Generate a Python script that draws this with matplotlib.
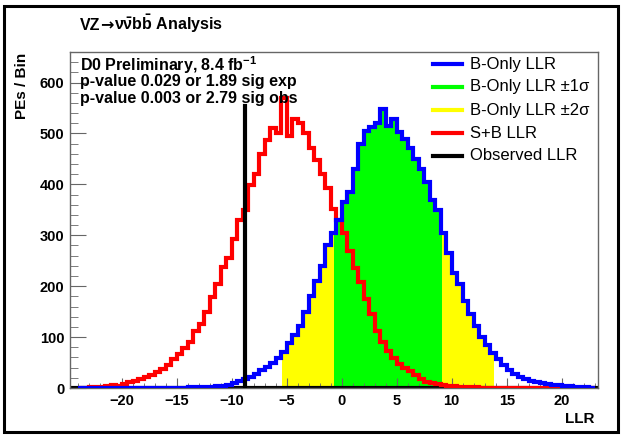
import numpy as np
import matplotlib
matplotlib.use("Agg")
import matplotlib.pyplot as plt
from matplotlib.patches import Rectangle

plt.rcParams.update({
    "font.family": ["Liberation Sans", "DejaVu Sans"],
    "mathtext.fontset": "custom",
    "mathtext.rm": "Liberation Sans:bold",
    "mathtext.bf": "Liberation Sans:bold",
    "mathtext.it": "Liberation Sans:bold",
    "mathtext.default": "bf",
})

# ── Data ──────────────────────────────────────────────────────────
BIN_LO, BIN_HI, BIN_W = -24.0, 23.0, 0.5

sb_llr = [0, 0, 1, 1, 2, 3, 5, 4, 8, 11, 13, 17, 22, 26, 31, 38,
          45, 56, 66, 78, 90, 112, 125, 150, 178, 205, 238, 255,
          292, 330, 350, 398, 420, 460, 488, 510, 500, 570, 495, 528,
          520, 500, 472, 448, 420, 392, 352, 330, 305, 270, 235, 208,
          175, 145, 112, 90, 72, 58, 48, 40, 33, 25, 18, 12,
          9, 7, 5, 4, 3, 2, 2, 1, 1, 0, 0, 0,
          0, 0, 0, 0, 0, 0, 0, 0, 0, 0, 0, 0, 0, 0, 0, 0, 0, 0]

b_llr = [0, 0, 0, 0, 0, 0, 0, 0, 0, 0, 0, 0, 0, 0, 0, 0, 0, 0, 0, 0,
         1, 1, 1, 2, 2, 3, 4, 6, 9, 13, 18, 22, 28, 35, 42, 50,
         58, 70, 88, 105, 122, 150, 180, 210, 240, 280, 305, 330,
         365, 385, 430, 480, 505, 512, 520, 548, 515, 528, 502, 490,
         472, 450, 430, 405, 370, 350, 305, 265, 225, 205, 170, 145,
         122, 100, 85, 68, 56, 45, 36, 28, 22, 18, 14, 12,
         10, 8, 6, 5, 4, 3, 2, 1, 1, 0]

band_1sig = (-0.7, 9.1)
band_2sig = (-5.45, 13.8)
obs_llr = -8.8
obs_height = 553

legend_labels = ["B-Only LLR", "B-Only LLR \u00b11\u03c3", "B-Only LLR \u00b12\u03c3",
                 "S+B LLR", "Observed LLR"]
legend_colors = ["#0000ff", "#00ff00", "#ffff00", "#ff0000", "black"]

info_lines = [r"D0 Preliminary, 8.4 fb$^{-1}$",
              "p-value 0.029 or 1.89 sig exp",
              "p-value 0.003 or 2.79 sig obs"]

edges = np.arange(BIN_LO, BIN_HI + BIN_W / 2, BIN_W)
sb = np.array(sb_llr, dtype=float)
b = np.array(b_llr, dtype=float)
assert len(sb) == len(edges) - 1 and len(b) == len(edges) - 1

fig = plt.figure(figsize=(6.25, 4.4), dpi=100)
ax = fig.add_axes([70 / 625, 52 / 440, 528 / 625, 336 / 440])

# outer frame
fig.patches.append(Rectangle((4 / 625, 8 / 440), 614 / 625, 426 / 440,
                             transform=fig.transFigure, fill=False,
                             edgecolor="black", lw=2.2))


def band(lo, hi, color):
    xs = np.concatenate([[lo], edges[(edges > lo) & (edges < hi)], [hi]])
    xs = np.sort(np.concatenate([xs, xs[1:-1] - 1e-6]))
    idx = np.clip(np.searchsorted(edges, xs, side="right") - 1, 0, len(b) - 1)
    ax.fill_between(xs, 0, b[idx], color=color, lw=0, zorder=1)


band(band_2sig[0], band_1sig[0], "#ffff00")
band(band_1sig[1], band_2sig[1], "#ffff00")
band(band_1sig[0], band_1sig[1], "#00ff00")

ax.axhline(0, color="black", lw=3, zorder=2)
ax.stairs(sb, edges, color="#ff0000", lw=3, baseline=None, zorder=3)
ax.stairs(b, edges, color="#0000ff", lw=3, baseline=None, zorder=4)
ax.plot([obs_llr, obs_llr], [0, obs_height], color="black", lw=3, zorder=5)

ax.set_xlim(-24.7, 23.3)
ax.set_ylim(0, 660)
ax.set_xticks(np.arange(-20, 21, 5))
ax.set_xticks(np.arange(-24, 24, 1), minor=True)
ax.set_yticks(np.arange(0, 601, 100))
ax.set_yticks(np.arange(0, 661, 20), minor=True)
ax.tick_params(axis="both", which="both", direction="in", color="#666666",
               labelsize=10.5)
ax.tick_params(axis="x", which="major", length=7.2, pad=4)
ax.tick_params(axis="x", which="minor", length=3.6)
ax.tick_params(axis="y", which="major", length=11.4, pad=4)
ax.tick_params(axis="y", which="minor", length=5.7)
for lab in ax.get_xticklabels() + ax.get_yticklabels():
    lab.set_fontweight("bold")
for sp in ax.spines.values():
    sp.set_color("#666666")
    sp.set_linewidth(1)

# info text
for i, t in enumerate(info_lines):
    ax.text(10 / 528, 1 - (13 + 16.5 * i) / 336, t, transform=ax.transAxes,
            ha="left", va="center", fontsize=11.5, fontweight="bold")

# legend
for i, (lab, col) in enumerate(zip(legend_labels, legend_colors)):
    y = 1 - (12 + 23 * i) / 336
    ax.plot([363 / 528, 392 / 528], [y, y], transform=ax.transAxes,
            color=col, lw=3, clip_on=False)
    ax.text(400 / 528, y, lab, transform=ax.transAxes, ha="left",
            va="center", fontsize=12)

# title in pieces so the arrow comes from DejaVu Sans (longer glyph)
title_parts = [("VZ", "Liberation Sans"), ("\u2192", "DejaVu Sans"),
               (r"$\nu\bar{\nu}b\bar{b}$ Analysis", "Liberation Sans")]
renderer = fig.canvas.get_renderer()
x_px, base_y = 80, 1 - 30 / 440
for txt, fam in title_parts:
    t = fig.text(x_px / 625, base_y, txt, ha="left", va="baseline",
                 family=fam, fontsize=11.5, fontweight="bold")
    x_px += t.get_window_extent(renderer).width
fig.text(22 / 625, 1 - 53 / 440, "PEs / Bin", rotation=90, ha="center",
         va="top", fontsize=11, fontweight="bold")
fig.text(595 / 625, 1 - 419 / 440, "LLR", ha="right", va="center",
         fontsize=11, fontweight="bold")

fig.savefig("out.png", dpi=100, facecolor="white")
